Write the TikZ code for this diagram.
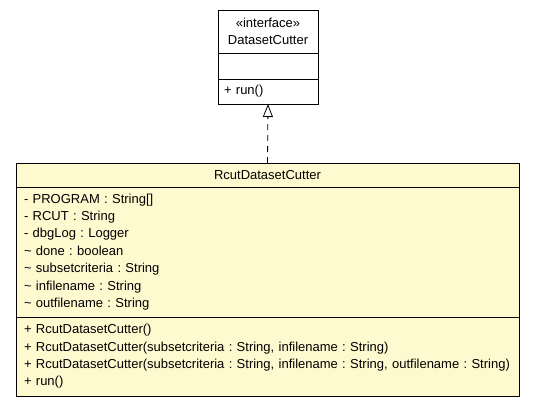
\documentclass[tikz,border=0pt]{standalone}
\usepackage{fontspec}
\setmainfont{Liberation Sans}
\usetikzlibrary{arrows.meta,positioning}
\definecolor{classfill}{RGB}{255,249,208}
\newcommand{\umlfont}{\fontsize{13}{17.4}\selectfont\frenchspacing}
\begin{document}
\begin{tikzpicture}[x=1pt,y=-1pt,font=\umlfont,
  ifbox/.style={draw=black, line width=1pt, fill=white, outer sep=0pt, inner xsep=6pt, inner ysep=0pt, text width=88pt, anchor=north west},
  classbox/.style={draw=black, line width=1pt, fill=classfill, outer sep=0pt, inner xsep=8pt, inner ysep=0pt, text width=487pt, anchor=north west},
  realize/.style={line width=0.8pt, dash pattern=on 6pt off 5pt, -{Triangle[open, length=13pt, width=10pt]}}]
  \useasboundingbox (0,0) rectangle (535,405);

  % interface
  \node[ifbox, minimum height=43pt, align=center] (ifname) at (218,10) {«interface»\\DatasetCutter};
  \node[ifbox, minimum height=26pt, below=0pt of ifname] (ifattrs) {};
  \node[ifbox, minimum height=25pt, align=left, below=0pt of ifattrs] (ifops) {+ run()};

  % implementing class
  \node[classbox, minimum height=24pt, align=center] (clsname) at (16,163) {RcutDatasetCutter};
  \node[classbox, minimum height=130pt, align=left, below=0pt of clsname] (clsattrs) {%
    - PROGRAM : String[]\\
    - RCUT : String\\
    - dbgLog : Logger\\
    \textasciitilde{} done : boolean\\
    \textasciitilde{} subsetcriteria : String\\
    \textasciitilde{} infilename : String\\
    \textasciitilde{} outfilename : String};
  \node[classbox, minimum height=79pt, align=left, below=0pt of clsattrs] (clsops) {%
    + RcutDatasetCutter()\\
    + RcutDatasetCutter(subsetcriteria : String, infilename : String)\\
    + RcutDatasetCutter(subsetcriteria : String, infilename : String, outfilename : String)\\
    + run()};

  \draw[realize] (clsname.north) -- (ifops.south);
\end{tikzpicture}
\end{document}
